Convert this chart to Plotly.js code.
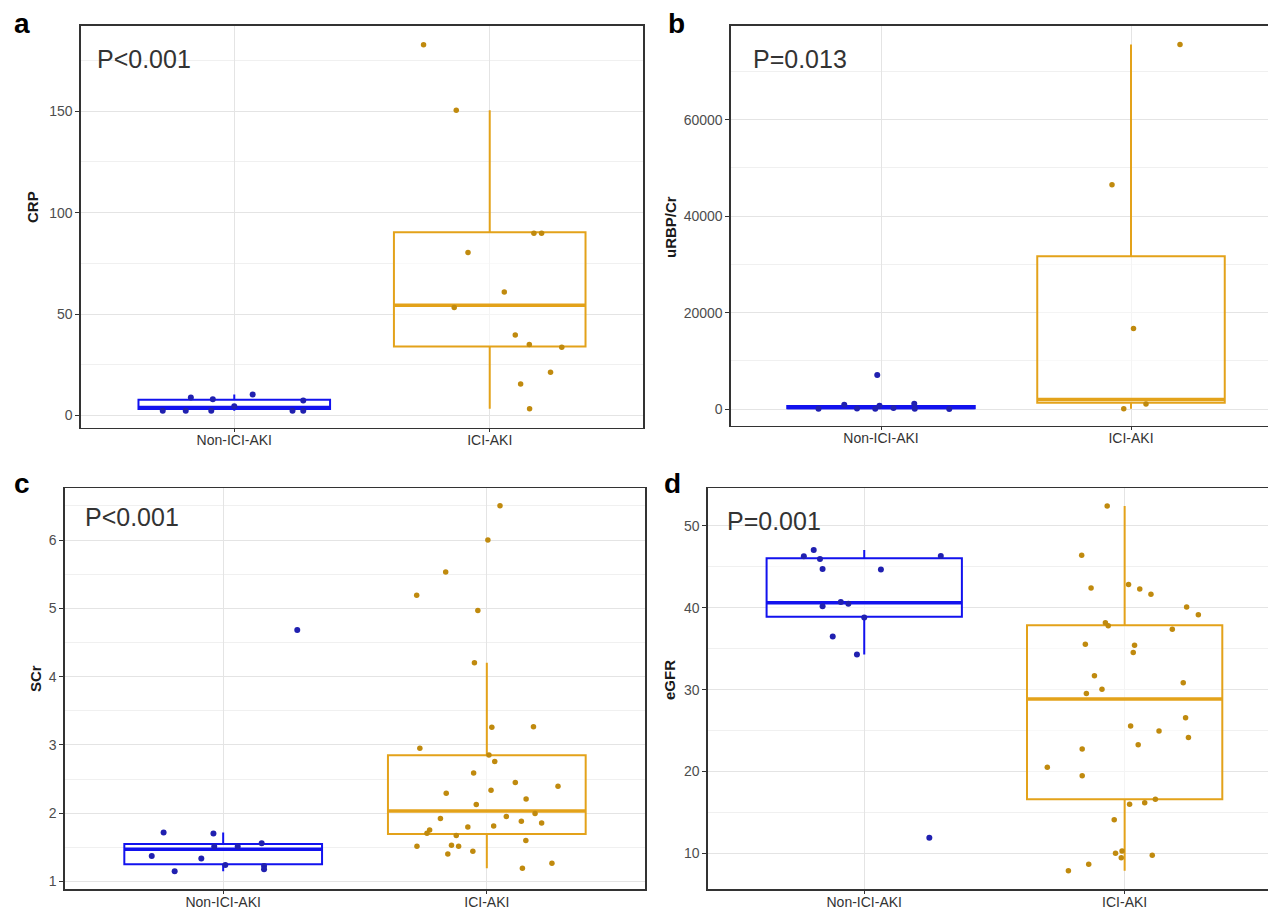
<!DOCTYPE html>
<html>
<head>
<meta charset="utf-8">
<script src="https://cdn.plot.ly/plotly-3.0.1.min.js"></script>
<style>html,body{margin:0;padding:0;background:#fff;}#chart{width:1268px;height:909px;}</style>
</head>
<body>
<div id="chart"></div>
<script>
// ---------- data ----------
const categories = ['Non-ICI-AKI', 'ICI-AKI'];
const panelLetters = ['a', 'b', 'c', 'd'];
const pLabels = ['P<0.001', 'P=0.013', 'P<0.001', 'P=0.001'];
const yTitles = ['CRP', 'uRBP/Cr', 'SCr', 'eGFR'];

// CRP
const crpNonVal = [2.3, 2.4, 8.9, 2.3, 8.0, 4.6, 10.4, 2.4, 2.3, 7.4];
const crpNonJitter = [-0.28, -0.19, -0.17, -0.09, -0.084, 0.0, 0.072, 0.228, 0.27, 0.27];
const crpIciVal = [182.8, 150.5, 89.8, 89.8, 80.3, 60.9, 53.3, 39.7, 35.0, 33.6, 21.3, 15.6, 3.3];
const crpIciJitter = [-0.259, -0.131, 0.173, 0.203, -0.085, 0.057, -0.139, 0.1, 0.155, 0.282, 0.238, 0.121, 0.156];
const crpQ1 = [3.2, 34.0], crpMedian = [3.9, 54.3], crpQ3 = [7.8, 90.3], crpLow = [2.3, 3.3], crpHigh = [10.4, 150.5];

// uRBP/Cr
const urbpNonVal = [7050, 890, 50, 680, 1100, 80, 30, 60, 120, 200];
const urbpNonJitter = [-0.015, -0.147, -0.023, -0.006, 0.133, 0.135, 0.273, -0.25, -0.096, 0.05];
const urbpIciVal = [75600, 46500, 16700, 60, 1040];
const urbpIciJitter = [0.196, -0.076, 0.01, -0.029, 0.06];
const urbpQ1 = [150, 1300], urbpMedian = [350, 2000], urbpQ3 = [650, 31700], urbpLow = [30, 60], urbpHigh = [1100, 75600];

// SCr
const scrNonVal = [1.717, 1.376, 1.151, 1.337, 1.702, 1.512, 1.244, 1.512, 1.561, 1.229, 1.18, 4.683];
const scrNonJitter = [-0.226, -0.271, -0.184, -0.083, -0.037, -0.034, 0.008, 0.055, 0.146, 0.155, 0.155, 0.281];
const scrIciVal = [6.502, 6.0, 5.532, 5.19, 4.97, 4.205, 3.259, 3.268, 2.951, 2.854, 2.756, 2.59,
  2.449, 2.395, 2.293, 2.337, 2.21, 2.127, 1.995, 1.951, 1.922, 1.883, 1.859, 1.815,
  1.8, 1.756, 1.707, 1.673, 1.6, 1.517, 1.532, 1.517, 1.405, 1.444, 1.268, 1.195];
const scrIciJitter = [0.05, 0.004, -0.156, -0.266, -0.034, -0.047, 0.019, 0.177, -0.254, 0.008, 0.03, -0.05,
  0.108, 0.27, -0.154, 0.016, 0.149, -0.04, 0.183, 0.074, -0.176, 0.131, 0.208, 0.026,
  -0.072, -0.217, -0.227, -0.116, 0.148, -0.265, -0.134, -0.107, -0.148, -0.053, 0.247, 0.135];
const scrQ1 = [1.254, 1.698], scrMedian = [1.473, 2.034], scrQ3 = [1.551, 2.849], scrLow = [1.151, 1.195], scrHigh = [1.717, 4.205];

// eGFR
const egfrNonVal = [46.3, 47.07, 45.97, 44.75, 44.67, 46.34, 40.19, 40.72, 40.48, 36.49, 38.81, 34.29, 11.91];
const egfrNonJitter = [-0.232, -0.194, -0.17, -0.16, 0.064, 0.294, -0.16, -0.09, -0.061, -0.121, 0.0, -0.028, 0.25];
const egfrIciVal = [52.44, 46.42, 42.43, 42.84, 42.31, 41.66, 40.11, 39.14, 38.16, 37.79, 37.39, 35.55,
  35.43, 34.54, 31.69, 30.83, 30.06, 29.53, 26.56, 25.54, 24.93, 24.16, 23.27, 22.74,
  20.5, 19.48, 15.98, 16.19, 16.59, 14.11, 10.0, 10.28, 9.47, 9.76, 8.66, 7.88];
const egfrIciJitter = [-0.067, -0.165, -0.129, 0.015, 0.058, 0.101, 0.238, 0.283, -0.074, -0.063, 0.183, -0.151,
  0.038, 0.033, -0.116, 0.225, -0.087, -0.147, 0.234, 0.023, 0.132, 0.245, 0.052, -0.163,
  -0.297, -0.163, 0.019, 0.077, 0.118, -0.04, -0.035, -0.01, -0.013, 0.106, -0.138, -0.216];
const egfrQ1 = [38.89, 16.59], egfrMedian = [40.6, 28.84], egfrQ3 = [46.05, 37.87], egfrLow = [34.29, 7.88], egfrHigh = [47.07, 52.44];

// ---------- styling ----------
const W = 1268, H = 909;
const boxColors = ['#1212EE', '#E3A21A'];
const pointColors = ['#2020B0', '#C08A0E'];
const BOXW = 0.75;
const FONT = 'Liberation Sans, Arial, sans-serif';

const panels = [
  {non: [crpNonVal, crpNonJitter], ici: [crpIciVal, crpIciJitter], st: [crpQ1, crpMedian, crpQ3, crpLow, crpHigh],
   px: [81, 643], py: [26, 427.7], xr: [-0.6, 1.6], yr: [-6, 192], dtick: 50, minor: 25, fmt: '', mirrorY: true,
   pPos: [95, 59], letterPos: [22, 24], titlePos: [33, 207]},
  {non: [urbpNonVal, urbpNonJitter], ici: [urbpIciVal, urbpIciJitter], st: [urbpQ1, urbpMedian, urbpQ3, urbpLow, urbpHigh],
   px: [731, 1268], py: [26, 425.7], xr: [-0.6, 1.548], yr: [-3450, 79450], dtick: 20000, minor: 10000, fmt: 'd', mirrorY: false,
   pPos: [751, 59], letterPos: [676, 23], titlePos: [671, 227]},
  {non: [scrNonVal, scrNonJitter], ici: [scrIciVal, scrIciJitter], st: [scrQ1, scrMedian, scrQ3, scrLow, scrHigh],
   px: [65, 645], py: [488.3, 889.3], xr: [-0.6, 1.6], yr: [0.887, 6.757], dtick: 1, minor: 0.5, fmt: '', mirrorY: true,
   pPos: [83, 517], letterPos: [22, 484], titlePos: [35, 679]},
  {non: [egfrNonVal, egfrNonJitter], ici: [egfrIciVal, egfrIciJitter], st: [egfrQ1, egfrMedian, egfrQ3, egfrLow, egfrHigh],
   px: [708, 1268], py: [488.3, 889.3], xr: [-0.6, 1.5505], yr: [5.6, 54.6], dtick: 10, minor: 5, fmt: '', mirrorY: false,
   pPos: [725, 521], letterPos: [672, 483], titlePos: [669, 680]}
];

const traces = [];
const layout = {
  width: W, height: H,
  margin: {l: 0, r: 0, t: 0, b: 0},
  paper_bgcolor: '#fff', plot_bgcolor: '#fff',
  showlegend: false,
  annotations: []
};

panels.forEach((p, k) => {
  const n = k + 1;
  const xa = n === 1 ? 'x' : 'x' + n;
  const ya = n === 1 ? 'y' : 'y' + n;
  const xKey = n === 1 ? 'xaxis' : 'xaxis' + n;
  const yKey = n === 1 ? 'yaxis' : 'yaxis' + n;
  const [q1, med, q3, lo, hi] = p.st;
  const groups = [p.non, p.ici];

  for (let g = 0; g < 2; g++) {
    traces.push({
      type: 'box', x: [g], q1: [q1[g]], median: [med[g]], q3: [q3[g]],
      lowerfence: [lo[g]], upperfence: [hi[g]],
      width: BOXW, whiskerwidth: 0, boxpoints: false,
      fillcolor: 'rgba(255,255,255,0.6)',
      line: {color: boxColors[g], width: 2},
      xaxis: xa, yaxis: ya, hoverinfo: 'skip', name: categories[g]
    });
    traces.push({
      type: 'scatter', mode: 'lines',
      x: [g - BOXW / 2, g + BOXW / 2], y: [med[g], med[g]],
      line: {color: boxColors[g], width: 3.5},
      xaxis: xa, yaxis: ya, hoverinfo: 'skip'
    });
  }
  for (let g = 0; g < 2; g++) {
    const [vals, jit] = groups[g];
    traces.push({
      type: 'scatter', mode: 'markers',
      x: vals.map((v, i) => g + jit[i]), y: vals,
      marker: {color: pointColors[g], size: g === 0 ? 6 : 5.5, line: {width: 0}},
      xaxis: xa, yaxis: ya, hoverinfo: 'skip', name: categories[g]
    });
  }

  layout[xKey] = {
    domain: [p.px[0] / W, p.px[1] / W], anchor: ya,
    range: p.xr, tickvals: [0, 1], ticktext: categories,
    showgrid: true, gridcolor: '#E4E4E4', gridwidth: 1, zeroline: false,
    showline: true, linecolor: '#333', linewidth: 1.6, mirror: true,
    ticks: 'outside', ticklen: 3, tickwidth: 1, tickcolor: '#333',
    ticklabelstandoff: -4,
    tickfont: {family: FONT, size: 14, color: '#333'}, fixedrange: true
  };
  layout[yKey] = {
    domain: [1 - p.py[1] / H, 1 - p.py[0] / H], anchor: xa,
    range: p.yr, tick0: 0, dtick: p.dtick, tickformat: p.fmt,
    showgrid: true, gridcolor: '#E4E4E4', gridwidth: 1, zeroline: false,
    minor: {dtick: p.minor, showgrid: true, gridcolor: '#F0F0F0', gridwidth: 1, ticks: ''},
    showline: true, linecolor: '#333', linewidth: 1.6, mirror: p.mirrorY,
    ticks: 'outside', ticklen: 4, tickwidth: 1, tickcolor: '#333',
    tickfont: {family: FONT, size: 14, color: '#4D4D4D'}, fixedrange: true
  };

  layout.annotations.push({
    xref: 'paper', yref: 'paper', x: p.pPos[0] / W, y: 1 - p.pPos[1] / H,
    xanchor: 'left', yanchor: 'middle', showarrow: false, text: pLabels[k],
    font: {family: FONT, size: 25, color: '#333'}
  });
  layout.annotations.push({
    xref: 'paper', yref: 'paper', x: p.letterPos[0] / W, y: 1 - p.letterPos[1] / H,
    xanchor: 'center', yanchor: 'middle', showarrow: false, text: '<b>' + panelLetters[k] + '</b>',
    font: {family: FONT, size: 28, color: '#000'}
  });
  layout.annotations.push({
    xref: 'paper', yref: 'paper', x: p.titlePos[0] / W, y: 1 - p.titlePos[1] / H,
    xanchor: 'center', yanchor: 'middle', showarrow: false, textangle: -90,
    text: '<b>' + yTitles[k] + '</b>',
    font: {family: FONT, size: 15, color: '#1a1a1a'}
  });
});

Plotly.newPlot('chart', traces, layout, {displayModeBar: false, staticPlot: true});
</script>
</body>
</html>
